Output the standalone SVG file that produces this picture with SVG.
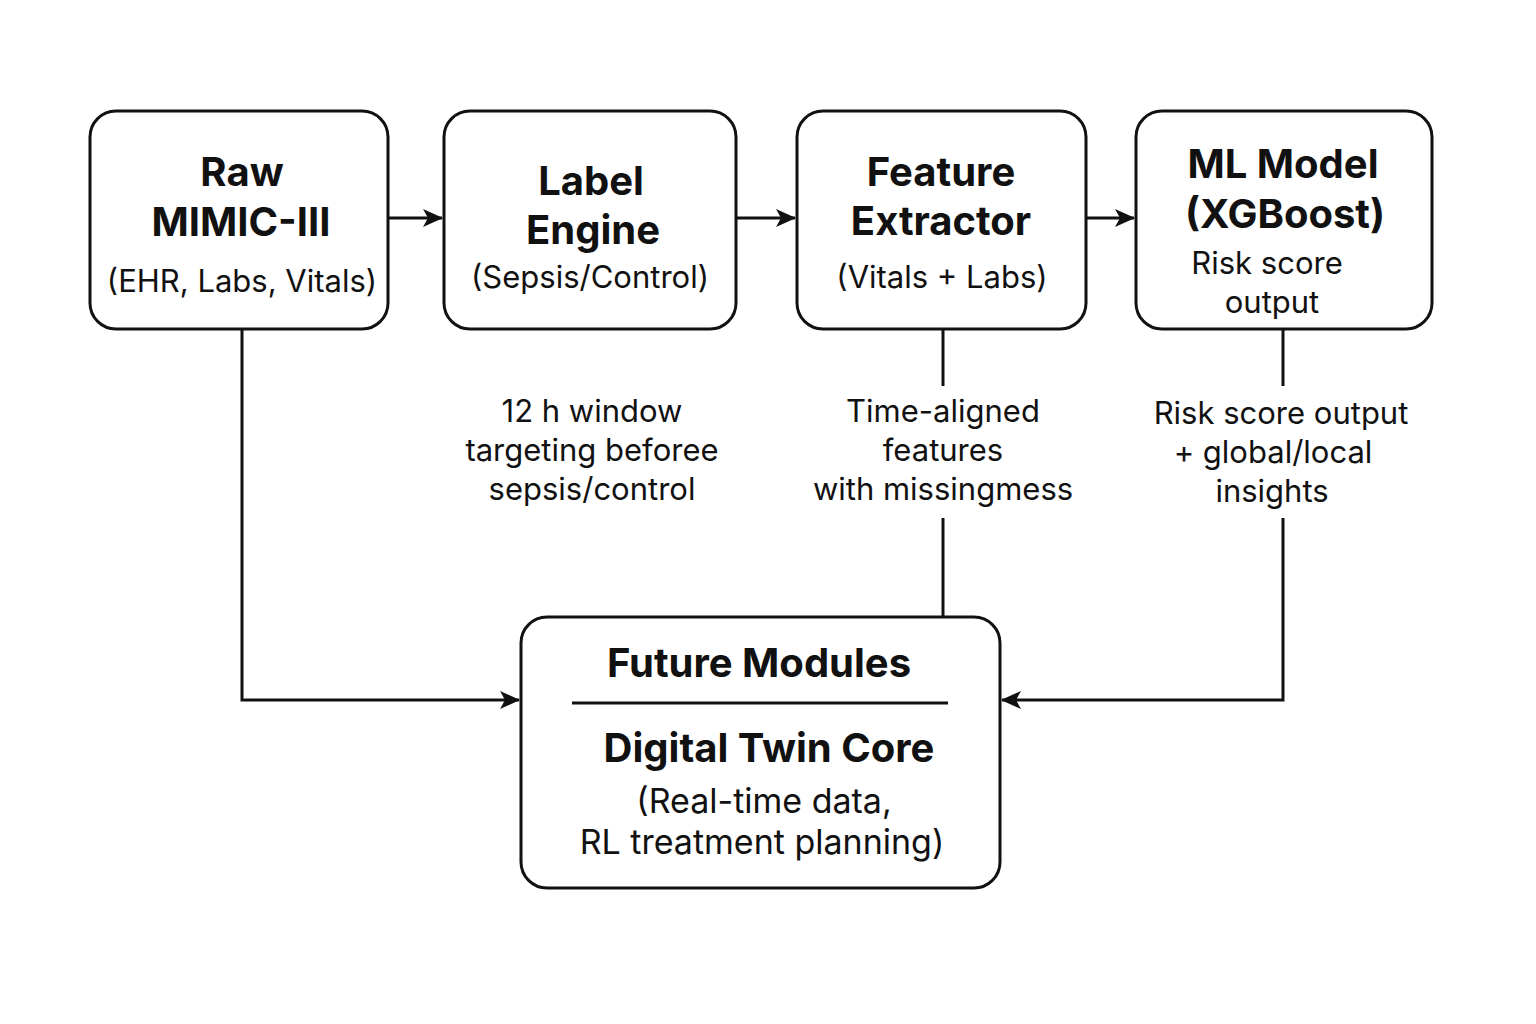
<svg xmlns="http://www.w3.org/2000/svg" width="1536" height="1024" viewBox="0 0 1536 1024">
<defs>
<marker id="ah" viewBox="0 0 20 18" refX="19" refY="9" markerWidth="20" markerHeight="18" markerUnits="userSpaceOnUse" orient="auto">
<path d="M0,0 L20,9 L0,18 L5,9 z" fill="#111"/>
</marker>
<style>
.box{fill:#fff;stroke:#111;stroke-width:3}
.t{font-family:Inter,"Noto Sans","Liberation Sans",sans-serif;font-weight:700;font-size:40px;fill:#111;text-anchor:middle}
.s{font-family:Inter,"Noto Sans","Liberation Sans",sans-serif;font-weight:400;font-size:31px;fill:#111;text-anchor:middle}
.l{font-size:34px}
.c{fill:none;stroke:#111;stroke-width:3}
</style>
</defs>
<rect width="1536" height="1024" fill="#fff"/>
<g id="connectors">
<line class="c" x1="388" y1="218" x2="442" y2="218" marker-end="url(#ah)"/>
<line class="c" x1="736" y1="218" x2="795" y2="218" marker-end="url(#ah)"/>
<line class="c" x1="1086" y1="218" x2="1134" y2="218" marker-end="url(#ah)"/>
<polyline class="c" points="242,329 242,700 519,700" marker-end="url(#ah)"/>
<line class="c" x1="943" y1="329" x2="943" y2="386"/>
<line class="c" x1="943" y1="518" x2="943" y2="617"/>
<line class="c" x1="1283" y1="329" x2="1283" y2="386"/>
<polyline class="c" points="1283,518 1283,700 1002,700" marker-end="url(#ah)"/>
<text class="s" x="592" y="422">12 h window</text>
<text class="s" x="592" y="461">targeting beforee</text>
<text class="s" x="592" y="500">sepsis/control</text>
<text class="s" x="943" y="422">Time-aligned</text>
<text class="s" x="943" y="461">features</text>
<text class="s" x="943" y="500">with missingmess</text>
<text class="s" x="1281" y="424">Risk score output</text>
<text class="s" x="1273" y="463">+ global/local</text>
<text class="s" x="1272" y="502">insights</text>
</g>
<g id="raw">
<rect class="box" x="90" y="111" width="298" height="218" rx="26"/>
<text class="t" x="242" y="186">Raw</text>
<text class="t" x="241" y="236">MIMIC-III</text>
<text class="s" x="242" y="292">(EHR, Labs, Vitals)</text>
</g>
<g id="label">
<rect class="box" x="444" y="111" width="292" height="218" rx="26"/>
<text class="t" x="591" y="195">Label</text>
<text class="t" x="593" y="244">Engine</text>
<text class="s" x="590" y="288">(Sepsis/Control)</text>
</g>
<g id="feature">
<rect class="box" x="797" y="111" width="289" height="218" rx="26"/>
<text class="t" x="941" y="186">Feature</text>
<text class="t" x="941" y="235">Extractor</text>
<text class="s" x="942" y="288">(Vitals + Labs)</text>
</g>
<g id="ml">
<rect class="box" x="1136" y="111" width="296" height="218" rx="26"/>
<text class="t" x="1283" y="178">ML Model</text>
<text class="t" x="1285" y="228">(XGBoost)</text>
<text class="s" x="1267" y="274">Risk score</text>
<text class="s" x="1272" y="313">output</text>
</g>
<g id="future">
<rect class="box" x="521" y="617" width="479" height="271" rx="26"/>
<text class="t" x="759" y="677">Future Modules</text>
<line x1="572" y1="703" x2="948" y2="703" stroke="#111" stroke-width="3"/>
<text class="t" x="769" y="762">Digital Twin Core</text>
<text class="s l" x="764" y="813">(Real-time data,</text>
<text class="s l" x="762" y="854">RL treatment planning)</text>
</g>
</svg>
